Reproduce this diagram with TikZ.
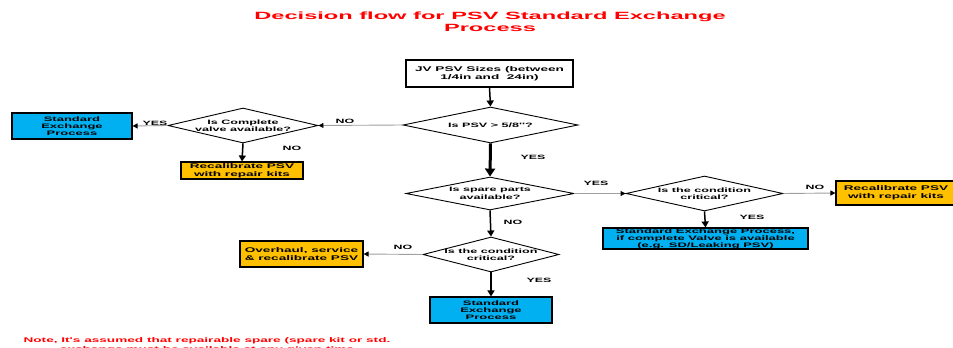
\documentclass[tikz,border=0pt]{standalone}
\usepackage{fontspec}
\setmainfont{Liberation Sans}
\newfontfamily\titlefont{Liberation Sans}[FakeStretch=2.25]
\newfontfamily\boxfont{Liberation Sans}[FakeStretch=2.0]
\usetikzlibrary{shapes.geometric,arrows.meta,shadows}
\definecolor{sblue}{HTML}{00B0F0}
\definecolor{sorange}{HTML}{FFC000}
\definecolor{sred}{HTML}{FF0000}
\definecolor{lgrey}{HTML}{A0A0A0}
\tikzset{
  boxbase/.style={draw=black, line width=1.1pt, inner sep=0pt, align=center,
    font=\boxfont\bfseries\fontsize{6.8}{8}\selectfont,
    drop shadow={shadow xshift=1.4pt, shadow yshift=-1.4pt, fill=black, opacity=1}},
  whitebox/.style={boxbase, fill=white},
  bluebox/.style={boxbase, fill=sblue},
  orangebox/.style={boxbase, fill=sorange},
  dia/.style={diamond, draw=black, line width=0.9pt, fill=white, inner sep=0pt, aspect=4},
  diatext/.style={align=center, inner sep=0pt, font=\boxfont\bfseries\fontsize{6.3}{7.5}\selectfont},
  lab/.style={inner sep=0pt, font=\boxfont\bfseries\fontsize{6.2}{7}\selectfont},
  vconn/.style={draw=black, line width=1.5pt, -{Triangle[length=6pt,width=7pt]}},
  hconn/.style={draw=lgrey, line width=0.9pt, -{Triangle[length=5pt,width=5pt,fill=black,color=black]}},
}
\begin{document}
\begin{tikzpicture}[x=1pt,y=-1pt]
\useasboundingbox (0,0) rectangle (953,348);
\clip (0,0) rectangle (953,348);

% title
\node[align=center, text=sred, inner sep=0pt, font=\titlefont\bfseries\fontsize{10.5}{12}\selectfont] (title) at (490,22)
  {Decision flow for PSV Standard Exchange\\Process};

% boxes
\node[whitebox, minimum width=167pt, minimum height=27pt] (jv) at (489.5,73.5)
  {JV PSV Sizes (between\\1/4in and\ \ 24in)};
\node[bluebox, minimum width=120pt, minimum height=26pt, font=\boxfont\bfseries\fontsize{6.5}{7}\selectfont] (se1) at (72,126)
  {Standard\\Exchange\\Process};
\node[orangebox, minimum width=122pt, minimum height=17pt, font=\boxfont\bfseries\fontsize{6.8}{7.5}\selectfont] (rec1) at (242,170.5)
  {Recalibrate PSV\\with repair kits};
\node[orangebox, minimum width=120pt, minimum height=24pt] (rec2) at (896,193)
  {Recalibrate PSV\\with repair kits};
\node[bluebox, minimum width=205pt, minimum height=21pt, font=\boxfont\bfseries\fontsize{6.5}{7}\selectfont] (se2) at (705.5,238.5)
  {Standard Exchange Process,\\if complete Valve is available\\(e.g. SD/Leaking PSV)};
\node[orangebox, minimum width=123pt, minimum height=26pt] (ovh) at (301.5,254)
  {Overhaul, service\\\& recalibrate PSV};
\node[bluebox, minimum width=122pt, minimum height=26pt, font=\boxfont\bfseries\fontsize{6.5}{7}\selectfont] (se3) at (491,310)
  {Standard\\Exchange\\Process};

% diamonds
\node[dia, minimum width=175pt, minimum height=36pt] (d1) at (490.5,125) {};
\node[diatext] at (d1) {Is PSV > 5/8''?};
\node[dia, minimum width=150pt, minimum height=35pt] (d2) at (243,125.5) {};
\node[diatext] at (d2) {Is Complete\\valve available?};
\node[dia, minimum width=168pt, minimum height=33pt] (d3) at (490,193.5) {};
\node[diatext] at (d3) {Is spare parts\\available?};
\node[dia, minimum width=157pt, minimum height=35pt] (d4) at (704.5,193.5) {};
\node[diatext] at (d4) {Is the condition\\critical?};
\node[dia, minimum width=136pt, minimum height=35pt] (d5) at (491,254.5) {};
\node[diatext] at (d5) {Is the condition\\critical?};

% connectors
\draw[vconn] (jv.south) -- (d1.north);
\draw[hconn] (d1.west) -- (d2.east);
\draw[hconn] (d2.west) -- (se1.east);
\draw[vconn] (d2.south) -- (rec1.north);
\draw[vconn, line width=3pt, -{Triangle[length=8pt,width=10pt]}] (d1.south) -- (d3.north);
\draw[hconn] (d3.east) -- (d4.west);
\draw[hconn] (d4.east) -- (rec2.west);
\draw[vconn] (d4.south) -- (se2.north);
\draw[vconn] (d3.south) -- (d5.north);
\draw[hconn] (d5.west) -- (ovh.east);
\draw[vconn] (d5.south) -- (se3.north);

% labels
\node[lab] (l1) at (345,121) {NO};
\node[lab] (l2) at (155,123) {YES};
\node[lab] (l3) at (292,148) {NO};
\node[lab] (l4) at (533,157) {YES};
\node[lab] (l5) at (596,183) {YES};
\node[lab] (l6) at (815,187) {NO};
\node[lab] (l7) at (752,217) {YES};
\node[lab] (l8) at (513,222) {NO};
\node[lab] (l9) at (403,247) {NO};
\node[lab] (l10) at (539,280) {YES};

% note
\node[align=center, text=sred, inner sep=0pt, font=\boxfont\bfseries\fontsize{6.8}{9}\selectfont] (note) at (207,345)
  {Note, It's assumed that repairable spare (spare kit or std.\\exchange must be available at any given time};
\end{tikzpicture}
\end{document}
